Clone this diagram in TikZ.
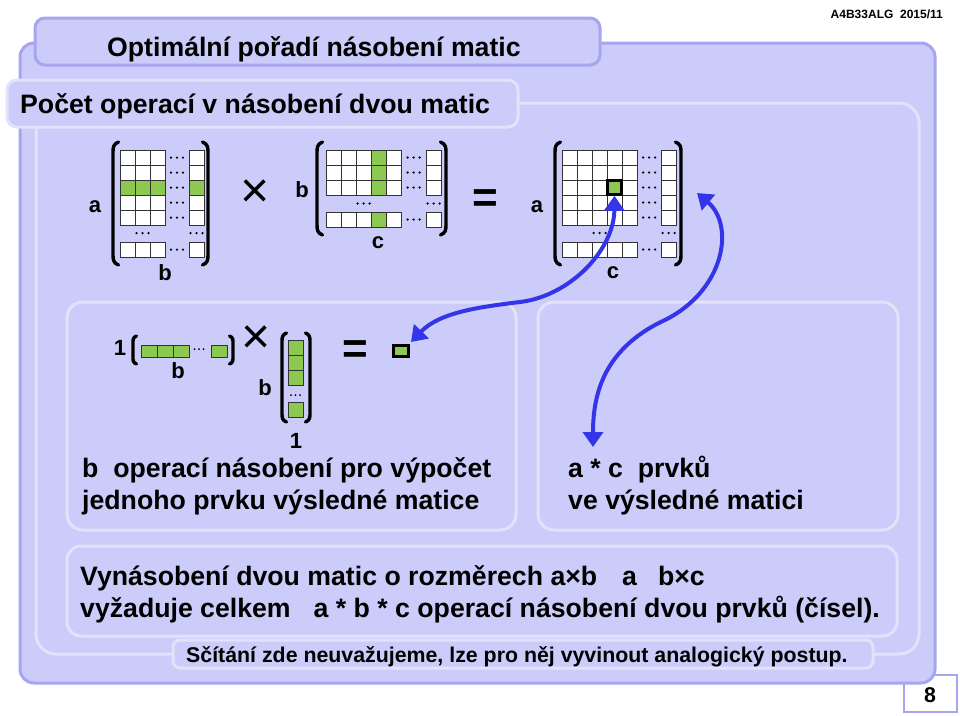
\documentclass[tikz,border=0pt]{standalone}
\usepackage{fontspec}
\setmainfont{Liberation Sans}
\usetikzlibrary{arrows.meta}
\definecolor{lav}{RGB}{204,204,250}
\definecolor{lavdark}{RGB}{166,166,240}
\definecolor{lavlight}{RGB}{226,226,251}
\definecolor{arrblue}{RGB}{52,52,232}
\definecolor{cellgreen}{RGB}{141,201,80}
\definecolor{celledge}{RGB}{51,51,51}
\newcommand{\FS}[1]{\fontsize{#1}{#1}\selectfont}
\newcommand{\Cell}[5]{\draw[cellst,fill=#5] (#1,#2) rectangle ++(#3,#4);}
\newcommand{\HDots}[4]{\fill[black] ({#1-#3},#2) circle (#4) (#1,#2) circle (#4) ({#1+#3},#2) circle (#4);}
\newcommand{\LPar}[4]{\draw[parst] ({#1+#4*0.5},#2) .. controls (#1,{#2+#4*0.2}) and (#1,{#2+#4*0.5}) .. (#1,{#2+#4}) -- (#1,{#3-#4}) .. controls (#1,{#3-#4*0.5}) and (#1,{#3-#4*0.2}) .. ({#1+#4*0.5},#3);}
\newcommand{\RPar}[4]{\draw[parst] ({#1-#4*0.5},#2) .. controls (#1,{#2+#4*0.2}) and (#1,{#2+#4*0.5}) .. (#1,{#2+#4}) -- (#1,{#3-#4}) .. controls (#1,{#3-#4*0.5}) and (#1,{#3-#4*0.2}) .. ({#1-#4*0.5},#3);}
\tikzset{
  cellst/.style={draw=celledge,line width=1pt},
  parst/.style={draw=black,line width=3.4pt,line cap=round},
  txt/.style={font=\bfseries\FS{26.67},anchor=base west,inner sep=0pt},
  lbl/.style={font=\bfseries\FS{22},anchor=base,inner sep=0pt},
  opsign/.style={font=\FS{50},inner sep=0pt},
  eqsign/.style={font=\bfseries\FS{44},inner sep=0pt},
  darkbox/.style={fill=lav,draw=lavdark,line width=3pt},
  lightbox/.style={fill=lav,draw=lavlight,line width=3pt},
  arr/.style={draw=arrblue,line width=4pt,{Triangle[length=15pt,width=20pt]}-{Triangle[length=15pt,width=20pt]}},
}
\begin{document}
\begin{tikzpicture}[x=1pt,y=-1pt]
\useasboundingbox (0,0) rectangle (960,715);
\fill[white] (0,0) rectangle (960,715);
% page number box
\draw[fill=white,draw=lavdark,line width=2pt] (904,675) rectangle (957,712);
% outer panel and title tab
\draw[darkbox,rounded corners=14pt] (20,43) rectangle (935,683);
\draw[darkbox,rounded corners=10pt] (35,18) rectangle (600,65);
% inner panel
\draw[lightbox,rounded corners=20pt] (36,103) rectangle (919,654);
% subtitle box
\draw[lightbox,rounded corners=10pt] (7,80) rectangle (518,127);
% sub panels
\draw[lightbox,rounded corners=16pt] (67,302) rectangle (516,530);
\draw[lightbox,rounded corners=16pt] (538,302) rectangle (898,530);
\draw[lightbox,rounded corners=14pt] (67,546) rectangle (897,636);
\draw[lightbox,rounded corners=7pt] (173,640) rectangle (873,668);
% header texts
\node[font=\bfseries\FS{12},anchor=base east,inner sep=0pt] (hdr) at (943,18) {A4B33ALG\ \ 2015/11};
\node[txt] (title) at (107,56) {Optimální pořadí násobení matic};
\node[txt] (subtitle) at (20,113) {Počet operací v násobení dvou matic};
\node[font=\bfseries\FS{21.33},anchor=base,inner sep=0pt] (pnum) at (930,702) {8};

% ===== Matrix A =====
\foreach \x in {120,135,150,189} \foreach \y in {150,165,180,195,210,242} {\Cell{\x}{\y}{15}{15}{white}}
\foreach \x in {120,135,150,189} {\Cell{\x}{180}{15}{15}{cellgreen}}
\foreach \y in {157.5,172.5,187.5,202.5,217.5,249.5} {\HDots{177}{\y}{6}{1.25pt}}
\HDots{142.5}{233}{6}{1.25pt}
\HDots{196.5}{233}{6}{1.25pt}
\LPar{113}{142}{265}{11}
\RPar{208}{142}{265}{11}
\node[lbl] (la) at (95,212) {a};
\node[lbl] (lb) at (165,280) {b};
\node[opsign] (times1) at (255,194) {×};

% ===== Matrix B =====
\foreach \x in {326,341,356,371,386,426} \foreach \y in {150,165,180,212} {\Cell{\x}{\y}{15}{15}{white}}
\foreach \y in {150,165,180,212} {\Cell{371}{\y}{15}{15}{cellgreen}}
\foreach \y in {157.5,172.5,187.5,219.5} {\HDots{413.5}{\y}{6}{1.25pt}}
\HDots{363.5}{203.5}{6}{1.25pt}
\HDots{433.5}{203.5}{6}{1.25pt}
\LPar{317}{142}{235}{11}
\RPar{446}{142}{235}{11}
\node[lbl] (lb2) at (302,197) {b};
\node[lbl] (lc2) at (378,248) {c};
\node[eqsign] (eq1) at (485,201) {=};

% ===== Matrix C =====
\foreach \x in {562,577,592,607,622,661} \foreach \y in {150,165,180,195,210,242} {\Cell{\x}{\y}{15}{15}{white}}
\foreach \y in {157.5,172.5,187.5,202.5,217.5,249.5} {\HDots{649}{\y}{6}{1.25pt}}
\HDots{599.5}{233}{6}{1.25pt}
\HDots{668.5}{233}{6}{1.25pt}
\LPar{555}{142}{265}{11}
\RPar{681}{142}{265}{11}
\node[lbl] (la3) at (537,212) {a};
\node[lbl] (lc3) at (613,278) {c};
\node[draw=black,line width=2.6pt,fill=cellgreen,minimum size=14pt,inner sep=0pt] (mc) at (614.5,187.5) {};

% ===== row vector times column vector =====
\node[lbl] (one1) at (120,355) {1};
\foreach \x in {141,157,173,211} {\Cell{\x}{345}{16}{12}{cellgreen}}
\HDots{199}{349}{4.5}{1pt}
\LPar{133}{336}{364}{7}
\RPar{233}{336}{364}{7}
\node[lbl] (lbr) at (178,378) {b};
\node[opsign] (times2) at (256,340) {×};
\foreach \y in {340,355,370,402} {\Cell{288}{\y}{15}{15}{cellgreen}}
\HDots{295.5}{395}{4.5}{1pt}
\LPar{282}{333}{422}{9}
\RPar{310}{333}{422}{9}
\node[lbl] (lbc) at (265,395) {b};
\node[lbl] (one2) at (296,448) {1};
\node[eqsign] (eq2) at (355,352) {=};
\node[draw=black,line width=3pt,fill=cellgreen,minimum width=15pt,minimum height=11pt,inner sep=0pt] (rc) at (401,351) {};

% ===== panel texts =====
\node[txt] (lt1) at (82,477) {b\ \ operací násobení pro výpočet};
\node[txt] (lt2) at (82,509) {jednoho prvku výsledné matice};
\node[txt] (rt1) at (568,477) {a * c\ \ prvků};
\node[txt] (rt2) at (568,509) {ve výsledné matici};
\node[txt] (bt1) at (80,585) {Vynásobení dvou matic o rozměrech a×b\hspace{25pt}a\hspace{21pt}b×c};
\node[txt] (bt2) at (80,617) {vyžaduje celkem\hspace{23pt}a * b * c operací násobení dvou prvků (čísel).};
\node[font=\bfseries\FS{21.33},anchor=base west,inner sep=0pt] (fn) at (186,662) {Sčítání zde neuvažujeme, lze pro něj vyvinout analogický postup.};

% ===== arrows =====
\coordinate (a2s) at (697,193);
\coordinate (a2e) at (593,447);
\draw[arr] ([xshift=1pt,yshift=2pt]rc.north east) .. controls (440,312) and (480,307) .. (520,302) .. controls (570,296) and (614,250) .. (mc.south);
\draw[arr] (a2s) .. controls (735,225) and (725,290) .. (665,320) .. controls (600,350) and (593,400) .. (a2e);
\end{tikzpicture}
\end{document}
